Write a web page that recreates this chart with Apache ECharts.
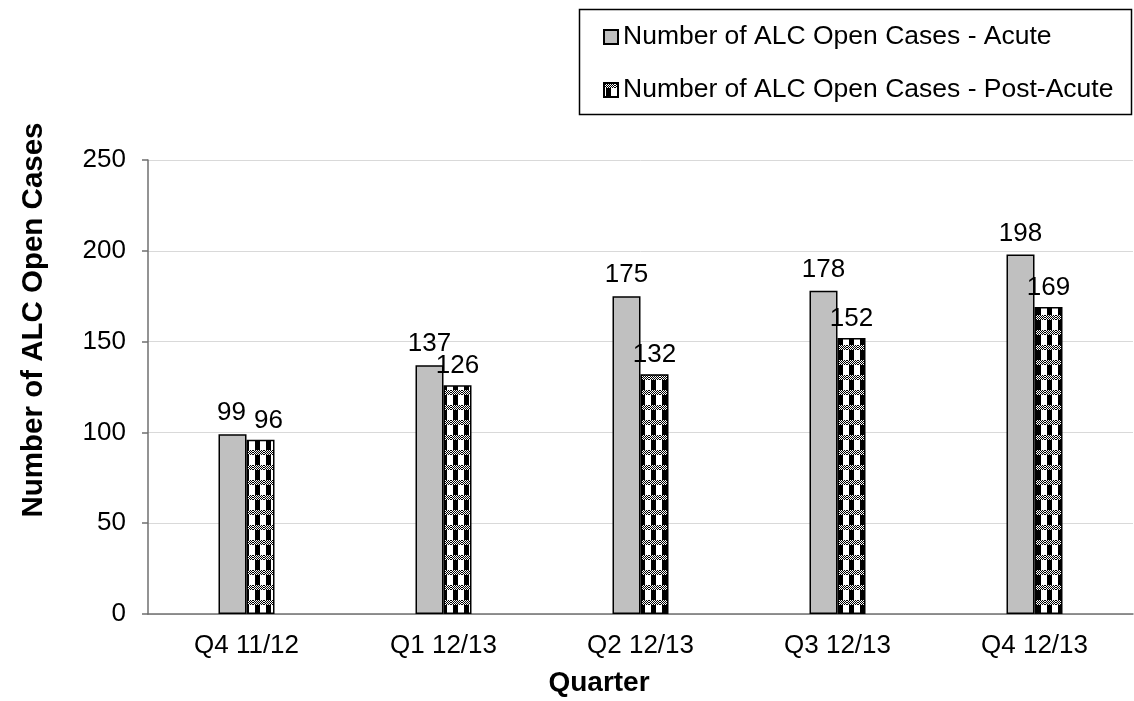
<!DOCTYPE html>
<html>
<head>
<meta charset="utf-8">
<script src="https://cdn.jsdelivr.net/npm/echarts@6/dist/echarts.min.js"></script>
<style>
  html, body { margin: 0; padding: 0; background: #fff; }
  #chart { width: 1134px; height: 701px; }
</style>
</head>
<body>
<div id="chart"></div>
<script>
// Quarterly ALC open cases
const quarters = ['Q4 11/12', 'Q1 12/13', 'Q2 12/13', 'Q3 12/13', 'Q4 12/13'];
const acuteCases = [99, 137, 175, 178, 198];
const postAcuteCases = [96, 126, 132, 152, 169];
const yTicks = [0, 50, 100, 150, 200, 250];

const FONT = 'Liberation Sans, Arial, sans-serif';

// Checkered fill for the post-acute bars: a band of fine checks over black/white columns
function makeCheckTile() {
  const c = document.createElement('canvas');
  c.width = 11; c.height = 15;
  const g = c.getContext('2d');
  g.fillStyle = '#fff';
  g.fillRect(0, 0, 11, 15);
  g.fillStyle = '#000';
  for (let y = 0; y < 5; y++) {
    for (let x = 0; x < 11; x++) {
      if ((x + y) % 2 === 0) g.fillRect(x, y, 1, 1);
    }
  }
  g.fillRect(2, 5, 5, 10);
  return c;
}
const checkFill = { image: makeCheckTile(), repeat: 'repeat' };

// The first pair of labels sits close together, so nudge them apart
const acuteData = acuteCases.map((v, i) => i === 0 ? { value: v, label: { offset: [-1, 0] } } : v);
const postAcuteData = postAcuteCases.map((v, i) => i === 0 ? { value: v, label: { offset: [8, 0] } } : v);

const chart = echarts.init(document.getElementById('chart'), null, { renderer: 'canvas' });

chart.setOption({
  animation: false,
  backgroundColor: '#fff',
  textStyle: { fontFamily: FONT },
  grid: { left: 148, right: 1, top: 160, bottom: 87, containLabel: false },
  legend: {
    left: 598,
    top: 18,
    orient: 'vertical',
    icon: 'rect',
    itemWidth: 14,
    itemHeight: 14,
    itemGap: 25,
    textStyle: { fontSize: 26.5, color: '#000', fontFamily: FONT, lineHeight: 28 },
    data: ['Number of ALC Open Cases - Acute', 'Number of ALC Open Cases - Post-Acute']
  },
  xAxis: {
    type: 'category',
    data: quarters,
    axisLine: { lineStyle: { color: '#6f6f6f', width: 1.5 } },
    axisTick: { show: false },
    axisLabel: { fontSize: 26, color: '#000', margin: 19, fontFamily: FONT }
  },
  yAxis: {
    type: 'value',
    min: yTicks[0],
    max: yTicks[yTicks.length - 1],
    interval: yTicks[1] - yTicks[0],
    axisLine: { show: true, lineStyle: { color: '#6f6f6f', width: 1.5 } },
    axisTick: { show: true, length: 6, lineStyle: { color: '#6f6f6f', width: 1.5 } },
    splitLine: { lineStyle: { color: '#d9d9d9', width: 1 } },
    axisLabel: { fontSize: 26, color: '#000', margin: 22, fontFamily: FONT }
  },
  series: [
    {
      name: 'Number of ALC Open Cases - Acute',
      type: 'bar',
      data: acuteData,
      barWidth: 28,
      barGap: '0%',
      itemStyle: { color: '#c0c0c0', borderColor: '#000', borderWidth: 1.5 },
      label: { show: true, position: 'top', distance: 8, fontSize: 26, color: '#000', fontFamily: FONT }
    },
    {
      name: 'Number of ALC Open Cases - Post-Acute',
      type: 'bar',
      data: postAcuteData,
      barWidth: 28,
      barGap: '0%',
      itemStyle: { color: checkFill, borderColor: '#000', borderWidth: 1.5 },
      label: { show: true, position: 'top', distance: 6, fontSize: 26, color: '#000', fontFamily: FONT }
    }
  ],
  graphic: [
    {
      type: 'rect',
      left: 577,
      top: 7,
      shape: { width: 552, height: 105 },
      style: { fill: 'none', stroke: '#000', lineWidth: 1.5 },
      z: -1
    },
    {
      type: 'text',
      x: 34,
      y: 320,
      rotation: Math.PI / 2,
      style: {
        text: 'Number of ALC Open Cases',
        fontSize: 29.5,
        fontWeight: 'bold',
        fontFamily: FONT,
        fill: '#000',
        align: 'center',
        verticalAlign: 'middle'
      }
    },
    {
      type: 'text',
      x: 599,
      y: 683,
      style: {
        text: 'Quarter',
        fontSize: 28,
        fontWeight: 'bold',
        fontFamily: FONT,
        fill: '#000',
        align: 'center',
        verticalAlign: 'middle'
      }
    }
  ]
});
</script>
</body>
</html>
